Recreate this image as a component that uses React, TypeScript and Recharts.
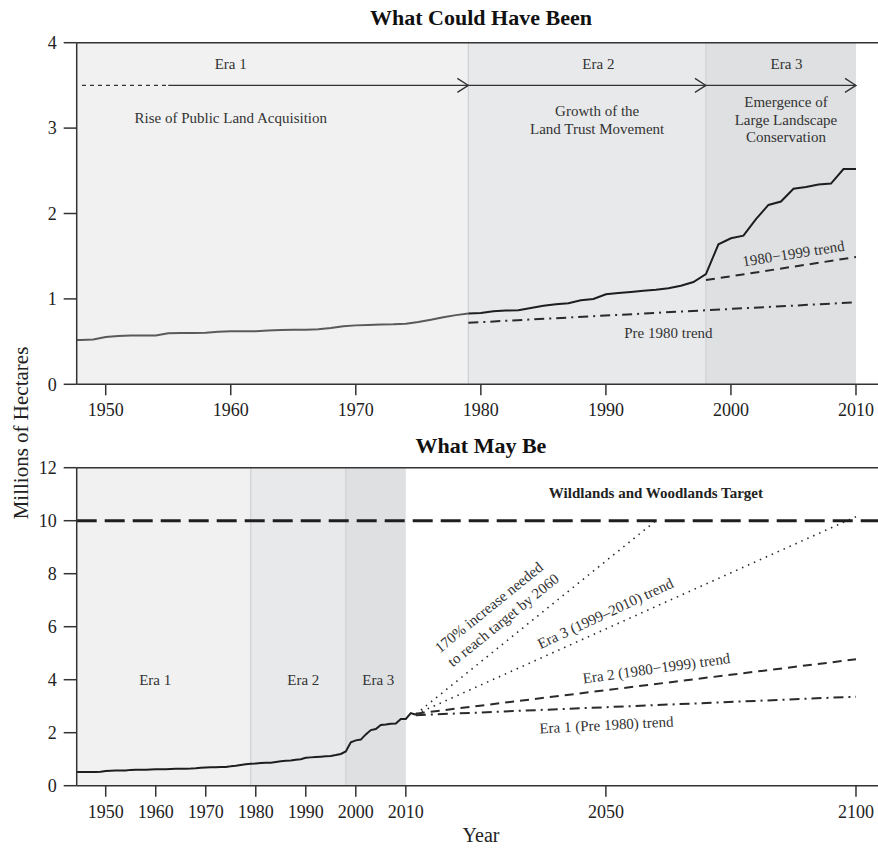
import React from "react";
import {
  ComposedChart,
  Line,
  Scatter,
  XAxis,
  YAxis,
  ReferenceArea,
  ReferenceLine,
  ReferenceDot,
} from "recharts";

// Hectares (millions) protected, by year
const years = [
  1944, 1945, 1946, 1947, 1948, 1949, 1950, 1951, 1952, 1953, 1954, 1955, 1956, 1957, 1958, 1959,
  1960, 1961, 1962, 1963, 1964, 1965, 1966, 1967, 1968, 1969, 1970, 1971, 1972, 1973, 1974, 1975,
  1976, 1977, 1978, 1979, 1980, 1981, 1982, 1983, 1984, 1985, 1986, 1987, 1988, 1989, 1990, 1991,
  1992, 1993, 1994, 1995, 1996, 1997, 1998, 1999, 2000, 2001, 2002, 2003, 2004, 2005, 2006, 2007,
  2008, 2009, 2010, 2011, 2012,
];
const hectares = [
  0.52, 0.52, 0.52, 0.52, 0.52, 0.525, 0.555, 0.565, 0.57, 0.57, 0.572, 0.597, 0.6, 0.6, 0.603, 0.615,
  0.62, 0.62, 0.622, 0.63, 0.635, 0.638, 0.64, 0.645, 0.66, 0.68, 0.69, 0.695, 0.7, 0.703, 0.71, 0.73,
  0.755, 0.785, 0.81, 0.83, 0.835, 0.855, 0.863, 0.867, 0.893, 0.92, 0.937, 0.948, 0.983, 1.0, 1.054, 1.069,
  1.081, 1.096, 1.108, 1.124, 1.155, 1.198, 1.29, 1.64, 1.71, 1.74, 1.935, 2.1, 2.14, 2.29, 2.31, 2.34,
  2.35, 2.52, 2.52, 2.74, 2.68,
];

const eraBreaks = [1979, 1998, 2010];

// top panel trends
const pre1980Trend = [
  { year: 1979, v: 0.72 },
  { year: 2010, v: 0.96 },
];
const era2TrendTop = [
  { year: 1998, v: 1.22 },
  { year: 2010, v: 1.49 },
];
const arrowDashed = [
  { year: 1948.1, v: 3.5 },
  { year: 1955, v: 3.5 },
];
const arrowSolid = [
  { year: 1955, v: 3.5 },
  { year: 2010, v: 3.5 },
];
const arrowTips = [
  { year: 1979, v: 3.5 },
  { year: 1998, v: 3.5 },
  { year: 2010, v: 3.5 },
];

// bottom panel projections
const target = 10;
const neededTrend = [
  { year: 2012, v: 2.7 },
  { year: 2060, v: 10 },
];
const era3Trend = [
  { year: 2012, v: 2.7 },
  { year: 2100, v: 10.15 },
];
const era2Trend = [
  { year: 2012, v: 2.72 },
  { year: 2100, v: 4.77 },
];
const era1Trend = [
  { year: 2012, v: 2.66 },
  { year: 2100, v: 3.36 },
];

const topTicks = [1950, 1960, 1970, 1980, 1990, 2000, 2010];
const bottomTicks = [1950, 1960, 1970, 1980, 1990, 2000, 2010, 2050, 2100];
const topYTicks = [0, 1, 2, 3, 4];
const bottomYTicks = [0, 2, 4, 6, 8, 10, 12];

type Note = { x: number; y: number; text: string; angle?: number; bold?: boolean; size?: number };

const topNotes: Note[] = [
  { x: 1960, y: 3.75, text: "Era 1" },
  { x: 1960, y: 3.12, text: "Rise of Public Land Acquisition" },
  { x: 1989.4, y: 3.75, text: "Era 2" },
  { x: 1989.3, y: 3.2, text: "Growth of the" },
  { x: 1989.3, y: 2.99, text: "Land Trust Movement" },
  { x: 2004.45, y: 3.75, text: "Era 3" },
  { x: 2004.4, y: 3.31, text: "Emergence of" },
  { x: 2004.4, y: 3.1, text: "Large Landscape" },
  { x: 2004.4, y: 2.89, text: "Conservation" },
  { x: 2005.0, y: 1.53, text: "1980\u22121999 trend", angle: -9 },
  { x: 1995.0, y: 0.6, text: "Pre 1980 trend" },
];

const bottomNotes: Note[] = [
  { x: 1959.9, y: 4.0, text: "Era 1" },
  { x: 1989.5, y: 4.0, text: "Era 2" },
  { x: 2004.5, y: 4.0, text: "Era 3" },
  { x: 2060, y: 11.06, text: "Wildlands and Woodlands Target", bold: true },
  { x: 2026.6, y: 6.73, text: "170% increase needed", angle: -39 },
  { x: 2029.5, y: 6.25, text: "to reach target by 2060", angle: -39 },
  { x: 2049.9, y: 6.5, text: "Era 3 (1999\u20132010) trend", angle: -25 },
  { x: 2060.1, y: 4.43, text: "Era 2 (1980\u22121999) trend", angle: -8 },
  { x: 2050.1, y: 2.29, text: "Era 1 (Pre 1980) trend", angle: -3 },
];

const rows = years.map((y, i) => ({ year: y, v: hectares[i] }));
const era1Rows = rows.filter((r) => r.year <= 1979);
const laterRows = rows.filter((r) => r.year >= 1979 && r.year <= 2010);

const FONT = '"Liberation Serif", "Times New Roman", serif';
const INK = "#2a2a2a";
const ERA_FILL = ["#f1f1f2", "#e8e9ea", "#dfe0e2"];

const noteShape = (n: Note) => (p: any) => (
  <text
    x={p.cx}
    y={p.cy}
    textAnchor="middle"
    dominantBaseline="central"
    fontSize={n.size ?? 15}
    fontWeight={n.bold ? "bold" : "normal"}
    fill={n.bold ? "#222" : "#333"}
    transform={n.angle ? `rotate(${n.angle} ${p.cx} ${p.cy})` : undefined}
  >
    {n.text}
  </text>
);

const Chevron = (p: any) => (
  <path
    d={`M${p.cx - 11},${p.cy - 7} L${p.cx},${p.cy} L${p.cx - 11},${p.cy + 7}`}
    fill="none"
    stroke="#333"
    strokeWidth={1.3}
  />
);

const tickStyle = { fontSize: 18, fill: "#222", fontFamily: FONT };

function TopPanel() {
  const x0 = 1947.68;
  return (
    <ComposedChart width={878} height={430} margin={{ top: 42.7, right: 0, left: 0, bottom: 15.7 }}>
      <XAxis
        type="number"
        dataKey="year"
        domain={[x0, 2011.76]}
        allowDataOverflow
        ticks={topTicks}
        tick={tickStyle}
        tickSize={11}
        tickMargin={8}
        height={30}
        stroke="#333"
        strokeWidth={1.5}
      />
      <YAxis
        type="number"
        domain={[0, 4]}
        allowDataOverflow
        ticks={topYTicks}
        tick={tickStyle}
        tickSize={13}
        tickMargin={7}
        width={76.7}
        stroke="#333"
        strokeWidth={1.5}
      />
      <ReferenceArea x1={x0} x2={eraBreaks[0]} y1={0} y2={4} fill={ERA_FILL[0]} fillOpacity={1} stroke="none" />
      <ReferenceArea x1={eraBreaks[0]} x2={eraBreaks[1]} y1={0} y2={4} fill={ERA_FILL[1]} fillOpacity={1} stroke="none" />
      <ReferenceArea x1={eraBreaks[1]} x2={eraBreaks[2]} y1={0} y2={4} fill={ERA_FILL[2]} fillOpacity={1} stroke="none" />
      <ReferenceLine x={eraBreaks[0]} stroke="#cfd0d2" strokeWidth={1.2} />
      <ReferenceLine x={eraBreaks[1]} stroke="#cfd0d2" strokeWidth={1.2} />
      <ReferenceLine y={4} stroke="#333" strokeWidth={1.5} />

      <Line data={arrowDashed} dataKey="v" stroke="#333" strokeWidth={1.3} strokeDasharray="4 4" dot={false} isAnimationActive={false} />
      <Line data={arrowSolid} dataKey="v" stroke="#333" strokeWidth={1.3} dot={false} isAnimationActive={false} />
      <Scatter data={arrowTips} dataKey="v" shape={Chevron} isAnimationActive={false} />

      <Line data={pre1980Trend} dataKey="v" stroke={INK} strokeWidth={2} strokeDasharray="10 5 2 5" dot={false} isAnimationActive={false} />
      <Line data={era2TrendTop} dataKey="v" stroke={INK} strokeWidth={2} strokeDasharray="9 6" dot={false} isAnimationActive={false} />
      <Line data={era1Rows} dataKey="v" stroke="#5a5a5a" strokeWidth={2} dot={false} isAnimationActive={false} />
      <Line data={laterRows} dataKey="v" stroke="#1e1e1e" strokeWidth={2} dot={false} isAnimationActive={false} />

      {topNotes.map((n, i) => (
        <ReferenceDot key={i} x={n.x} y={n.y} r={0} shape={noteShape(n)} />
      ))}
    </ComposedChart>
  );
}

function BottomPanel() {
  const x0 = 1944.2;
  return (
    <ComposedChart width={878} height={419} margin={{ top: 37.7, right: 0, left: 0, bottom: 33.3 }}>
      <XAxis
        type="number"
        dataKey="year"
        domain={[x0, 2104.4]}
        allowDataOverflow
        ticks={bottomTicks}
        tick={tickStyle}
        tickSize={11}
        tickMargin={8.5}
        height={30}
        stroke="#333"
        strokeWidth={1.5}
      />
      <YAxis
        type="number"
        domain={[0, 12]}
        allowDataOverflow
        ticks={bottomYTicks}
        tick={tickStyle}
        tickSize={13}
        tickMargin={7}
        width={76.7}
        stroke="#333"
        strokeWidth={1.5}
      />
      <ReferenceArea x1={x0} x2={eraBreaks[0]} y1={0} y2={12} fill={ERA_FILL[0]} fillOpacity={1} stroke="none" />
      <ReferenceArea x1={eraBreaks[0]} x2={eraBreaks[1]} y1={0} y2={12} fill={ERA_FILL[1]} fillOpacity={1} stroke="none" />
      <ReferenceArea x1={eraBreaks[1]} x2={eraBreaks[2]} y1={0} y2={12} fill={ERA_FILL[2]} fillOpacity={1} stroke="none" />
      <ReferenceLine x={eraBreaks[0]} stroke="#cfd0d2" strokeWidth={1.2} />
      <ReferenceLine x={eraBreaks[1]} stroke="#cfd0d2" strokeWidth={1.2} />
      <ReferenceLine y={12} stroke="#333" strokeWidth={1.5} />
      <ReferenceLine y={target} stroke="#1e1e1e" strokeWidth={3} strokeDasharray="20 8" />

      <Line data={neededTrend} dataKey="v" stroke={INK} strokeWidth={1.6} strokeDasharray="1.5 5" dot={false} isAnimationActive={false} />
      <Line data={era3Trend} dataKey="v" stroke={INK} strokeWidth={1.6} strokeDasharray="1.5 5" dot={false} isAnimationActive={false} />
      <Line data={era2Trend} dataKey="v" stroke={INK} strokeWidth={2} strokeDasharray="9 6" dot={false} isAnimationActive={false} />
      <Line data={era1Trend} dataKey="v" stroke={INK} strokeWidth={2} strokeDasharray="10 5 2 5" dot={false} isAnimationActive={false} />
      <Line data={rows} dataKey="v" stroke="#1e1e1e" strokeWidth={2} dot={false} isAnimationActive={false} />

      {bottomNotes.map((n, i) => (
        <ReferenceDot key={i} x={n.x} y={n.y} r={0} shape={noteShape(n)} />
      ))}
    </ComposedChart>
  );
}

export default function App() {
  return (
    <div style={{ position: "absolute", left: 0, top: 0, width: 878, height: 849, background: "#fff", fontFamily: FONT }}>
      <div style={{ position: "absolute", left: 0, top: 0 }}>
        <TopPanel />
      </div>
      <div style={{ position: "absolute", left: 0, top: 430 }}>
        <BottomPanel />
      </div>
      <svg width={878} height={849} style={{ position: "absolute", left: 0, top: 0, pointerEvents: "none" }}>
        <text x={481} y={25} textAnchor="middle" fontSize={22} fontWeight="bold" fill="#111">
          What Could Have Been
        </text>
        <text x={481} y={453} textAnchor="middle" fontSize={22} fontWeight="bold" fill="#111">
          What May Be
        </text>
        <text x={481} y={842} textAnchor="middle" fontSize={20} fill="#222">
          Year
        </text>
        <text x={28} y={433} textAnchor="middle" fontSize={21} fill="#222" transform="rotate(-90 28 433)">
          Millions of Hectares
        </text>
      </svg>
    </div>
  );
}
